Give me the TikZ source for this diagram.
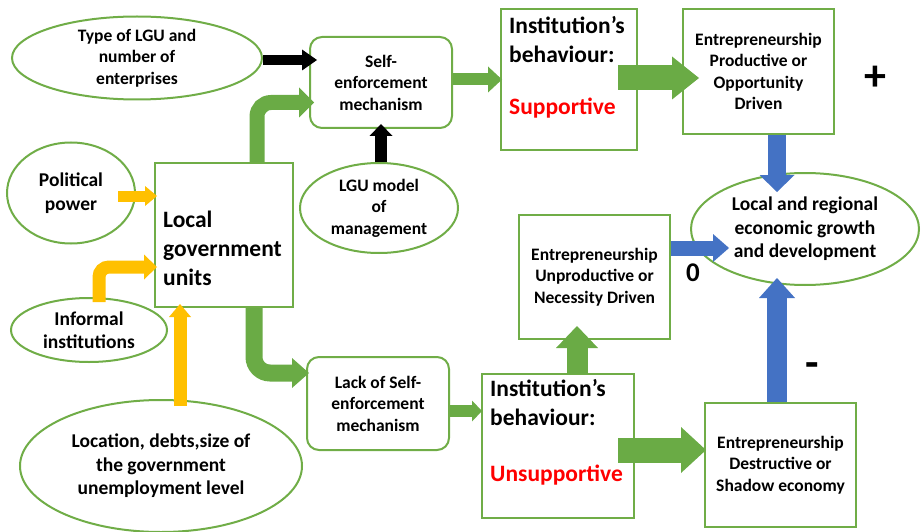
\documentclass[tikz,border=0pt]{standalone}
\usepackage{fontspec}
\setmainfont{Carlito}
\usetikzlibrary{arrows.meta,shapes.geometric,calc}
\definecolor{gline}{HTML}{70AD47}
\definecolor{gfill}{HTML}{6AAB45}
\definecolor{ylw}{HTML}{FFC000}
\definecolor{blu}{HTML}{4472C4}
\definecolor{txtred}{HTML}{FF0000}
\newcommand\txtsize[2]{\fontsize{#1}{#2}\selectfont}

\begin{document}
\begin{tikzpicture}[x=1pt,y=-1pt,
  oval/.style={draw=gline, line width=2pt, fill=white, ellipse, inner sep=0pt, align=center},
  box/.style={draw=gline, line width=2pt, fill=white, rectangle, inner sep=0pt, align=center},
  rbox/.style={box, rounded corners=12pt},
  small/.style={font=\bfseries\txtsize{17.5}{21.5}},
  mid/.style={font=\bfseries\txtsize{19.5}{23.5}},
  big/.style={font=\bfseries\txtsize{23.5}{29}},
  flow/.style n args={4}{draw=#1, line width=#2,
    -{Triangle[length=#3,width=#4,line width=0pt]}},
]
\useasboundingbox (0,0) rectangle (923,532);

% ---- inputs on the left ----
\node[oval, small, minimum width=250pt, minimum height=83pt] (typ) at (137,58)
  {Type of LGU and\\number of\\enterprises};
\node[oval, mid, minimum width=128pt, minimum height=101pt] (pol) at (71,193)
  {Political\\power};
\node[oval, mid, minimum width=156pt, minimum height=64pt] (inf) at (89,330)
  {Informal\\institutions};
\node[oval, mid, minimum width=282pt, minimum height=132pt] (loc) at (161,466)
  {Location, debts,size of\\the government\\unemployment level};
\node[oval, small, minimum width=158pt, minimum height=90pt] (model) at (379,208)
  {LGU model\\of\\management};

% ---- local government units ----
\node[box, minimum width=138pt, minimum height=144pt] (lgu) at (224,235) {};
\node[big, anchor=west, align=left, inner sep=0pt] (lgutxt) at (163,248)
  {Local\\government\\units};

% ---- enforcement mechanisms ----
\node[rbox, small, minimum width=142pt, minimum height=91pt] (self) at (381,82.5)
  {Self-\\enforcement\\mechanism};
\node[rbox, small, minimum width=142pt, minimum height=93pt] (lack) at (378,403.5)
  {Lack of Self-\\enforcement\\mechanism};

% ---- institution's behaviour ----
\node[box, minimum width=136pt, minimum height=141pt] (sup) at (569,79.5) {};
\node[big, anchor=west, align=left, inner sep=0pt] (suphead) at (509,40)
  {Institution’s\\behaviour:};
\node[big, anchor=west, inner sep=0pt, text=txtred] (supword) at (509,108) {Supportive};

\node[box, minimum width=152pt, minimum height=144pt] (unsup) at (558,446) {};
\node[big, anchor=west, align=left, inner sep=0pt] (unsuphead) at (490,403)
  {Institution’s\\behaviour:};
\node[big, anchor=west, inner sep=0pt, text=txtred] (unsupword) at (490,475) {Unsupportive};

% ---- entrepreneurship types ----
\node[box, small, minimum width=151pt, minimum height=125pt] (prod) at (758.5,71.5)
  {Entrepreneurship\\Productive or\\Opportunity\\Driven};
\node[box, small, minimum width=151pt, minimum height=124pt] (unprod) at (594.5,277)
  {Entrepreneurship\\Unproductive or\\Necessity Driven};
\node[box, small, minimum width=151pt, minimum height=124pt] (destr) at (780.5,465)
  {Entrepreneurship\\Destructive or\\Shadow economy};

% ---- outcome ----
\node[oval, mid, minimum width=228pt, minimum height=112pt] (goal) at (805,229)
  {Local and regional\\economic growth\\and development};

% ---- signs ----
\node[font=\bfseries\txtsize{44}{44}, inner sep=0pt] (plus) at (875,78) {+};
\node[font=\bfseries\txtsize{27}{27}, inner sep=0pt] (zero) at (693,273) {0};
\node[font=\bfseries\txtsize{44}{44}, inner sep=0pt] (minus) at (812,370) {-};

% ---- black arrows ----
\draw[flow={black}{10pt}{15pt}{21pt}]
  ($(typ.east)+(0,2)$) -- ($(self.west |- typ.east)+(8,2)$);
\draw[flow={black}{12pt}{12pt}{23pt}]
  (self.south |- model.north) -- ($(self.south)+(0,-5)$);

% ---- yellow arrows ----
\draw[flow={ylw}{11pt}{12pt}{20pt}]
  ($(pol.east)+(-18,3)$) -- ($(lgu.west |- pol.east)+(3,3)$);
\draw[flow={ylw}{13pt}{13pt}{25pt}, rounded corners=10pt]
  ($(inf.north)+(10,5)$) |- ($(lgu.west)+(3,32)$);
\draw[flow={ylw}{13pt}{13pt}{22pt}]
  ($(loc.north)+(19,7)$) -- ($(lgu.south -| loc.north)+(19,-4)$);

% ---- green arrows ----
\draw[flow={gfill}{15pt}{15pt}{30pt}, rounded corners=14pt]
  ($(lgu.north)+(33,0)$) |- ($(self.west)+(5,20)$);
\draw[flow={gfill}{17pt}{17pt}{30pt}, rounded corners=16pt]
  ($(lgu.south)+(30,0)$) |- ($(lack.west)+(3,-30.5)$);
\draw[flow={gfill}{12pt}{14pt}{26pt}]
  ($(self.east)+(0,-3)$) -- ($(sup.west |- self.east)+(2,-3)$);
\draw[flow={gfill}{25pt}{27pt}{43pt}]
  ($(sup.east)+(-20,-1.5)$) -- ($(prod.west |- sup.east)+(17,-1.5)$);
\draw[flow={gfill}{12pt}{10pt}{21pt}]
  ($(lack.east)+(0,7.5)$) -- ($(unsup.west |- lack.east)+(1,7.5)$);
\draw[flow={gfill}{21pt}{22pt}{42pt}]
  ($(unsup.north)+(19,1)$) -- ($(unprod.south -| unsup.north)+(19,-14)$);
\draw[flow={gfill}{25pt}{25pt}{46pt}]
  ($(unsup.east)+(-17,4)$) -- ($(destr.west |- unsup.east)+(2,4)$);

% ---- blue arrows ----
\draw[flow={blu}{18pt}{17pt}{35pt}]
  ($(prod.south)+(18.5,0)$) -- ($(goal.north -| prod.south)+(18.5,20)$);
\draw[flow={blu}{15pt}{16pt}{28pt}]
  ($(unprod.east)+(0,-29)$) -- ($(goal.west |- unprod.east)+(39,-29)$);
\draw[flow={blu}{20pt}{20pt}{36pt}]
  ($(destr.north)+(-3.5,0)$) -- ($(goal.south -| destr.north)+(-3.5,-8)$);
\end{tikzpicture}
\end{document}
